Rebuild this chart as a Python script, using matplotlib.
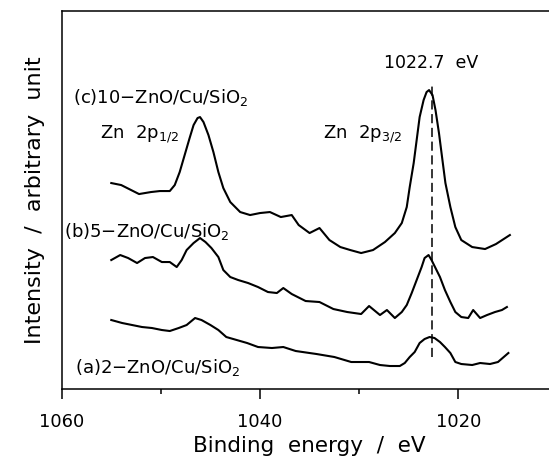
import numpy as np
import matplotlib.pyplot as plt

plt.close("all")

# Zn 2p XPS spectra (arbitrary intensity units)
energy_c = [1055.0, 1054.0, 1052.2, 1051.0, 1050.1, 1049.1, 1048.6, 1048.1, 1047.6, 1047.1,
            1046.7, 1046.3, 1046.05, 1045.7, 1045.2, 1044.7, 1044.2, 1043.7, 1043.0, 1042.0,
            1041.0, 1040.0, 1039.0, 1037.9, 1036.8, 1036.1, 1035.0, 1034.0, 1033.0, 1031.9,
            1030.9, 1029.8, 1028.6, 1027.4, 1026.4, 1025.7, 1025.2, 1024.9, 1024.5, 1024.2,
            1023.9, 1023.5, 1023.2, 1022.95, 1022.6, 1022.3, 1021.95, 1021.6, 1021.3, 1020.8,
            1020.3, 1019.7, 1018.6, 1017.3, 1016.2, 1014.8]
inten_c = [206, 204, 195, 197, 198, 198, 204, 217, 234, 251,
           264, 271, 272, 267, 254, 237, 217, 201, 187, 177,
           174, 176, 177, 172, 174, 164, 156, 161, 149, 142,
           139, 136, 139, 147, 156, 166, 182, 202, 226, 249,
           272, 289, 297, 299, 294, 279, 256, 229, 206, 182,
           162, 149, 142, 140, 145, 154]

energy_b = [1055.0, 1054.1, 1053.3, 1052.4, 1051.6, 1050.8, 1049.9, 1049.1, 1048.4, 1047.9,
            1047.4, 1046.7, 1046.05, 1045.5, 1044.9, 1044.2, 1043.7, 1043.0, 1042.2, 1041.2,
            1040.2, 1039.2, 1038.3, 1037.65, 1036.8, 1035.4, 1034.0, 1032.6, 1031.2, 1029.8,
            1029.0, 1027.9, 1027.2, 1026.4, 1025.7, 1025.2, 1024.7, 1024.2, 1023.7, 1023.4,
            1023.0, 1022.7, 1022.35, 1021.85, 1021.35, 1020.8, 1020.3, 1019.7, 1019.0, 1018.5,
            1017.8, 1017.1, 1016.3, 1015.6, 1015.1]
inten_b = [129, 134, 131, 126, 131, 132, 127, 127, 122, 129,
           139, 146, 151, 147, 141, 132, 119, 112, 109, 106,
           102, 97, 96, 101, 95, 88, 87, 80, 77, 75,
           83, 74, 79, 71, 77, 84, 96, 109, 122, 131,
           134, 129, 122, 112, 99, 87, 77, 72, 71, 79,
           71, 74, 77, 79, 82]

energy_a = [1055.0, 1053.9, 1052.9, 1051.9, 1050.9, 1049.9, 1049.1, 1048.2, 1047.4, 1046.55,
            1045.9, 1045.0, 1044.2, 1043.4, 1042.35, 1041.3, 1040.2, 1038.8, 1037.65, 1036.4,
            1034.3, 1032.5, 1030.8, 1029.0, 1027.9, 1026.9, 1025.9, 1025.4, 1024.9, 1024.4,
            1023.9, 1023.4, 1022.9, 1022.4, 1021.85, 1021.35, 1020.8, 1020.3, 1019.7, 1018.6,
            1017.8, 1016.8, 1016.0, 1014.95]
inten_a = [69, 66, 64, 62, 61, 59, 58, 61, 64, 71,
           69, 64, 59, 52, 49, 46, 42, 41, 42, 38,
           35, 32, 27, 27, 24, 23, 23, 26, 32, 37,
           46, 50, 52, 51, 47, 42, 36, 27, 25, 24,
           26, 25, 27, 36]

peak_pos = 1022.7
peak_line = [32, 307]

fig = plt.figure(figsize=(5.49, 4.62), dpi=100)
ax = fig.add_axes([0.1124, 0.158, 0.903, 0.818])

ax.plot(energy_c, inten_c, color='black', lw=1.5)
ax.plot(energy_b, inten_b, color='black', lw=1.5)
ax.plot(energy_a, inten_a, color='black', lw=1.5)
ax.plot([peak_pos, peak_pos], peak_line, color='black', lw=1.1, ls=(0, (6, 3)))

ax.set_xlim(1060, 1010)
ax.set_ylim(0, 378)
ax.set_xticks([1060, 1040, 1020])
ax.set_xticks([1050, 1030, 1010], minor=True)
ax.set_yticks([])
ax.tick_params(axis='x', which='major', direction='out', length=7.2, width=1.1,
               pad=10, labelsize=13)
ax.tick_params(axis='x', which='minor', direction='out', length=3.6, width=1.1)
for sp in ax.spines.values():
    sp.set_linewidth(1.1)

ax.set_xlabel('Binding  energy  /  eV', fontsize=15.5, labelpad=4)
ax.set_ylabel('Intensity  /  arbitrary  unit', fontsize=16, labelpad=12)

ax.text(peak_pos, 326, '1022.7  eV', fontsize=12.5, ha='center', va='center')
ax.text(1058.9, 292, '(c)10$-$ZnO/Cu/SiO$_2$', fontsize=13, va='center')
ax.text(1056.1, 255, 'Zn  2p$_{1/2}$', fontsize=13, va='center')
ax.text(1033.6, 255, 'Zn  2p$_{3/2}$', fontsize=13, va='center')
ax.text(1059.75, 158, '(b)5$-$ZnO/Cu/SiO$_2$', fontsize=13, va='center')
ax.text(1058.7, 22, '(a)2$-$ZnO/Cu/SiO$_2$', fontsize=13, va='center')

plt.savefig('out.png', dpi=100)
